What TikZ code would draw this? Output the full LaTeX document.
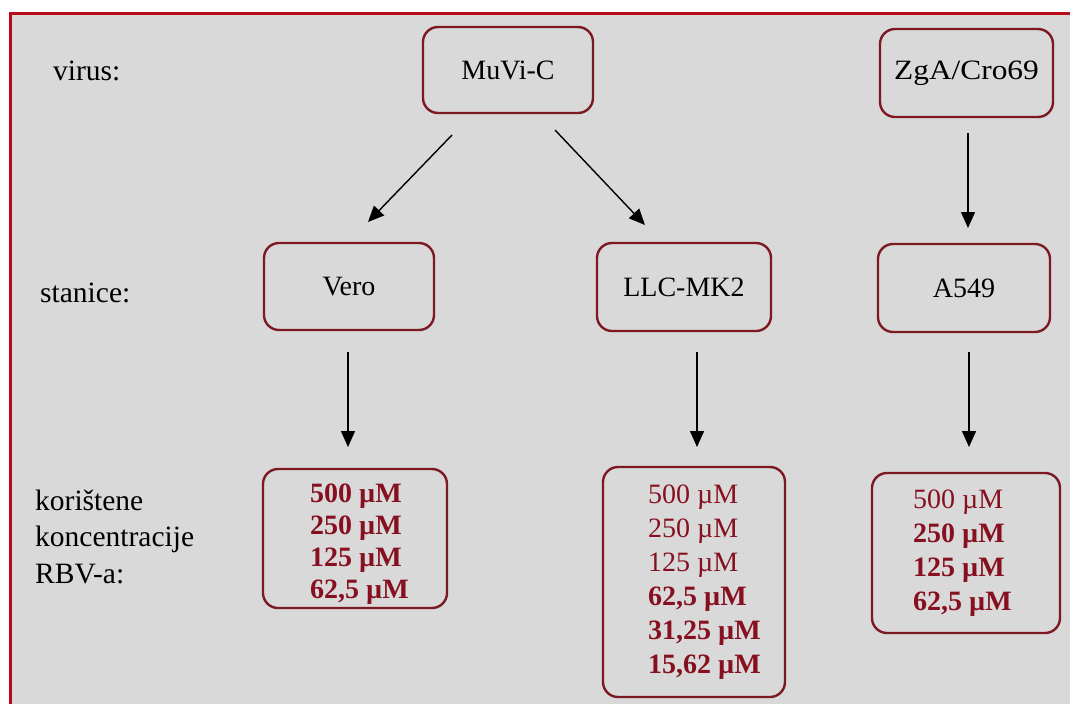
\documentclass[tikz,border=0pt]{standalone}
\usepackage{fontspec}
\usepackage{graphicx}
\setmainfont{Liberation Serif}
\usetikzlibrary{arrows.meta}
\definecolor{panelgrey}{RGB}{217,217,217}
\definecolor{framered}{RGB}{185,12,22}
\definecolor{boxline}{RGB}{125,25,35}
\definecolor{concred}{RGB}{135,16,32}
\begin{document}
\begin{tikzpicture}[x=1pt,y=-1pt,
  box/.style={draw=boxline, line width=2.4pt, rounded corners=15pt, fill=panelgrey,
    inner sep=0pt, font=\fontsize{28}{34}\selectfont},
  arr/.style={line width=1.4pt, -{Triangle[length=16pt,width=14pt]}},
  % multi-line nodes: the base anchor sits on the last line
  rowlabel/.style={anchor=base west, inner sep=0pt, align=left,
    font=\fontsize{29.5}{36.5}\selectfont},
  conclist/.style={anchor=base west, inner sep=0pt, align=left, text=concred}]
\useasboundingbox (0,0) rectangle (1070,704);
% page and framed panel
\fill[white] (0,0) rectangle (1070,704);
\fill[panelgrey] (10,13) rectangle (1070,704);
\draw[framered, line width=3pt] (10,704) -- (10,13) -- (1070,13);

% row labels
\node[rowlabel] (lvirus) at (53,80) {virus:};
\node[rowlabel] (lcells) at (40,302) {stanice:};
\node[rowlabel] (lconc) at (35,583) {korištene\\koncentracije\\RBV-a:};

% viruses
\node[box, minimum width=170pt, minimum height=86pt] (muvi) at (508,70) {MuVi-C};
\node[box, minimum width=173pt, minimum height=88pt] (zga) at (966.5,73)
  {\scalebox{1.12}[1]{ZgA/Cro69}};

% cell lines
\node[box, minimum width=170pt, minimum height=87pt] (vero) at (349,286.5) {Vero};
\node[box, minimum width=174pt, minimum height=88pt] (llc) at (684,287) {LLC-MK2};
\node[box, minimum width=172pt, minimum height=88pt] (a549) at (964,288) {A549};

% concentration boxes
\node[box, minimum width=184pt, minimum height=139pt] (c1) at (355,538.5) {};
\node[box, minimum width=182pt, minimum height=230pt] (c2) at (694,582) {};
\node[box, minimum width=188pt, minimum height=160pt] (c3) at (966,553) {};

\node[conclist, font=\fontsize{28}{31.7}\selectfont\bfseries] (c1t) at (310,598)
  {500 µM\\250 µM\\125 µM\\62,5 µM};
\node[conclist, font=\fontsize{28}{34}\selectfont] (c2t) at (648,673)
  {500 µM\\250 µM\\125 µM\\\textbf{62,5 µM}\\\textbf{31,25 µM}\\\textbf{15,62 µM}};
\node[conclist, font=\fontsize{28}{34}\selectfont] (c3t) at (913,610)
  {500 µM\\\textbf{250 µM}\\\textbf{125 µM}\\\textbf{62,5 µM}};

% arrow end points
\coordinate (m-vero-s) at (452,135);
\coordinate (m-vero-e) at (368,222);
\coordinate (m-llc-s) at (555,130);
\coordinate (m-llc-e) at (645,225);
\coordinate (z-a-s) at (968,133);
\coordinate (z-a-e) at (968,228);
\coordinate (vero-s) at (348,352);
\coordinate (vero-e) at (348,447);
\coordinate (llc-s) at (697,352);
\coordinate (llc-e) at (697,447);
\coordinate (a-s) at (969,352);
\coordinate (a-e) at (969,447);

\draw[arr] (m-vero-s) -- (m-vero-e);
\draw[arr] (m-llc-s) -- (m-llc-e);
\draw[arr] (z-a-s) -- (z-a-e);
\draw[arr] (vero-s) -- (vero-e);
\draw[arr] (llc-s) -- (llc-e);
\draw[arr] (a-s) -- (a-e);
\end{tikzpicture}
\end{document}
